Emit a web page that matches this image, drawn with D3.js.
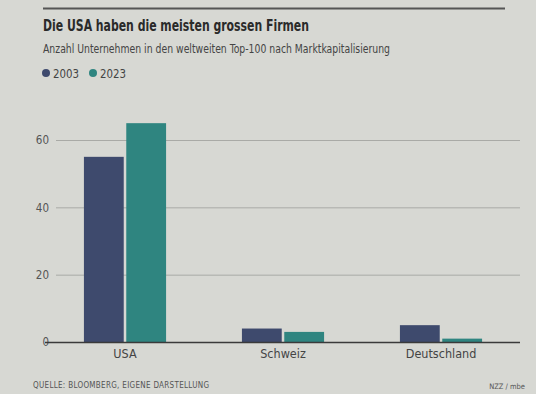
<!DOCTYPE html>
<html>
<head>
<meta charset="utf-8">
<script src="https://cdn.jsdelivr.net/npm/d3@7"></script>
<style>
  html, body { margin: 0; padding: 0; background: #d7d8d3; }
  svg { display: block; }
  text { font-family: "Liberation Sans Narrow", "DejaVu Sans Condensed", "Roboto", sans-serif; }
</style>
</head>
<body>
<svg id="chart" width="536" height="394"></svg>
<script>
// Number of companies per country among the world's top 100 by market cap
const countries = ["USA", "Schweiz", "Deutschland"];
const years = ["2003", "2023"];
const values2003 = [55, 4, 5];
const values2023 = [65, 3, 1];
const yTicks = [0, 20, 40, 60];
const colors = ["#3e4a6d", "#2f8580"];

const svg = d3.select("#chart");
const W = 536, H = 394;

svg.append("rect").attr("width", W).attr("height", H).attr("fill", "#d7d8d3");

// header rule
svg.append("line")
  .attr("x1", 43).attr("x2", 505).attr("y1", 8.5).attr("y2", 8.5)
  .attr("stroke", "#555").attr("stroke-width", 2);

// title and subtitle, squeezed to a condensed width
svg.append("text")
  .attr("x", 43).attr("y", 31)
  .attr("font-size", 16.5).attr("font-weight", "bold").attr("fill", "#2a2a2a")
  .attr("textLength", 266).attr("lengthAdjust", "spacingAndGlyphs")
  .text("Die USA haben die meisten grossen Firmen");

svg.append("text")
  .attr("x", 43).attr("y", 53)
  .attr("font-size", 11.5).attr("fill", "#444")
  .attr("textLength", 347).attr("lengthAdjust", "spacingAndGlyphs")
  .text("Anzahl Unternehmen in den weltweiten Top-100 nach Marktkapitalisierung");

// legend
const legend = svg.append("g").attr("transform", "translate(46,73)");
years.forEach((yr, i) => {
  const g = legend.append("g").attr("transform", `translate(${i * 47},0)`);
  g.append("circle").attr("r", 4).attr("fill", colors[i]);
  g.append("text").attr("x", 7).attr("y", 4.5)
    .attr("font-size", 12).attr("fill", "#444")
    .attr("textLength", 26).attr("lengthAdjust", "spacingAndGlyphs")
    .text(yr);
});

// scales
const x0 = d3.scaleBand().domain(countries).range([46, 520]).paddingInner(0.48).paddingOuter(0.24);
const x1 = d3.scaleBand().domain(years).range([0, x0.bandwidth()]).paddingInner(0.06);
const y = d3.scaleLinear().domain([0, 60]).range([342, 140]);

// gridlines and tick labels
const yAxis = d3.axisLeft(y).tickValues(yTicks).tickSize(0).tickPadding(0);
const ya = svg.append("g").attr("transform", "translate(49,0)").call(yAxis);
ya.select(".domain").remove();
ya.selectAll("text").attr("font-size", 11.5).attr("fill", "#555")
  .attr("font-family", "\"Liberation Sans Narrow\", \"DejaVu Sans Condensed\", sans-serif");

svg.append("g").selectAll("line")
  .data(yTicks.filter(d => d > 0))
  .join("line")
  .attr("x1", 56).attr("x2", 520)
  .attr("y1", d => y(d) + 0.5).attr("y2", d => y(d) + 0.5)
  .attr("stroke", "#a9aaa6").attr("stroke-width", 1);

// bars
const rows = countries.map((c, i) => ({ country: c, vals: [values2003[i], values2023[i]] }));
const groups = svg.append("g").selectAll("g")
  .data(rows).join("g")
  .attr("transform", d => `translate(${x0(d.country)},0)`);
groups.selectAll("rect")
  .data(d => d.vals.map((v, i) => ({ year: years[i], v, i })))
  .join("rect")
  .attr("x", d => x1(d.year))
  .attr("width", x1.bandwidth())
  .attr("y", d => y(d.v))
  .attr("height", d => y(0) - y(d.v))
  .attr("fill", d => colors[d.i]);

// baseline
svg.append("line")
  .attr("x1", 45).attr("x2", 520).attr("y1", y(0) + 0.5).attr("y2", y(0) + 0.5)
  .attr("stroke", "#3a3a3a").attr("stroke-width", 1.5);

// category labels
const xAxis = d3.axisBottom(x0).tickSize(0).tickPadding(0);
const xa = svg.append("g").attr("transform", `translate(0,${y(0) + 7})`).call(xAxis);
xa.select(".domain").remove();
xa.selectAll("text").attr("font-size", 12.5).attr("fill", "#444").attr("dy", "0.75em")
  .attr("font-family", "\"Liberation Sans Narrow\", \"DejaVu Sans Condensed\", sans-serif");

// footer
svg.append("text")
  .attr("x", 33).attr("y", 388)
  .attr("font-size", 8).attr("fill", "#555").attr("letter-spacing", 0.3)
  .text("QUELLE: BLOOMBERG, EIGENE DARSTELLUNG");
svg.append("text")
  .attr("x", 525).attr("y", 389).attr("text-anchor", "end")
  .attr("font-size", 7.5).attr("fill", "#555")
  .text("NZZ / mbe");
</script>
</body>
</html>
